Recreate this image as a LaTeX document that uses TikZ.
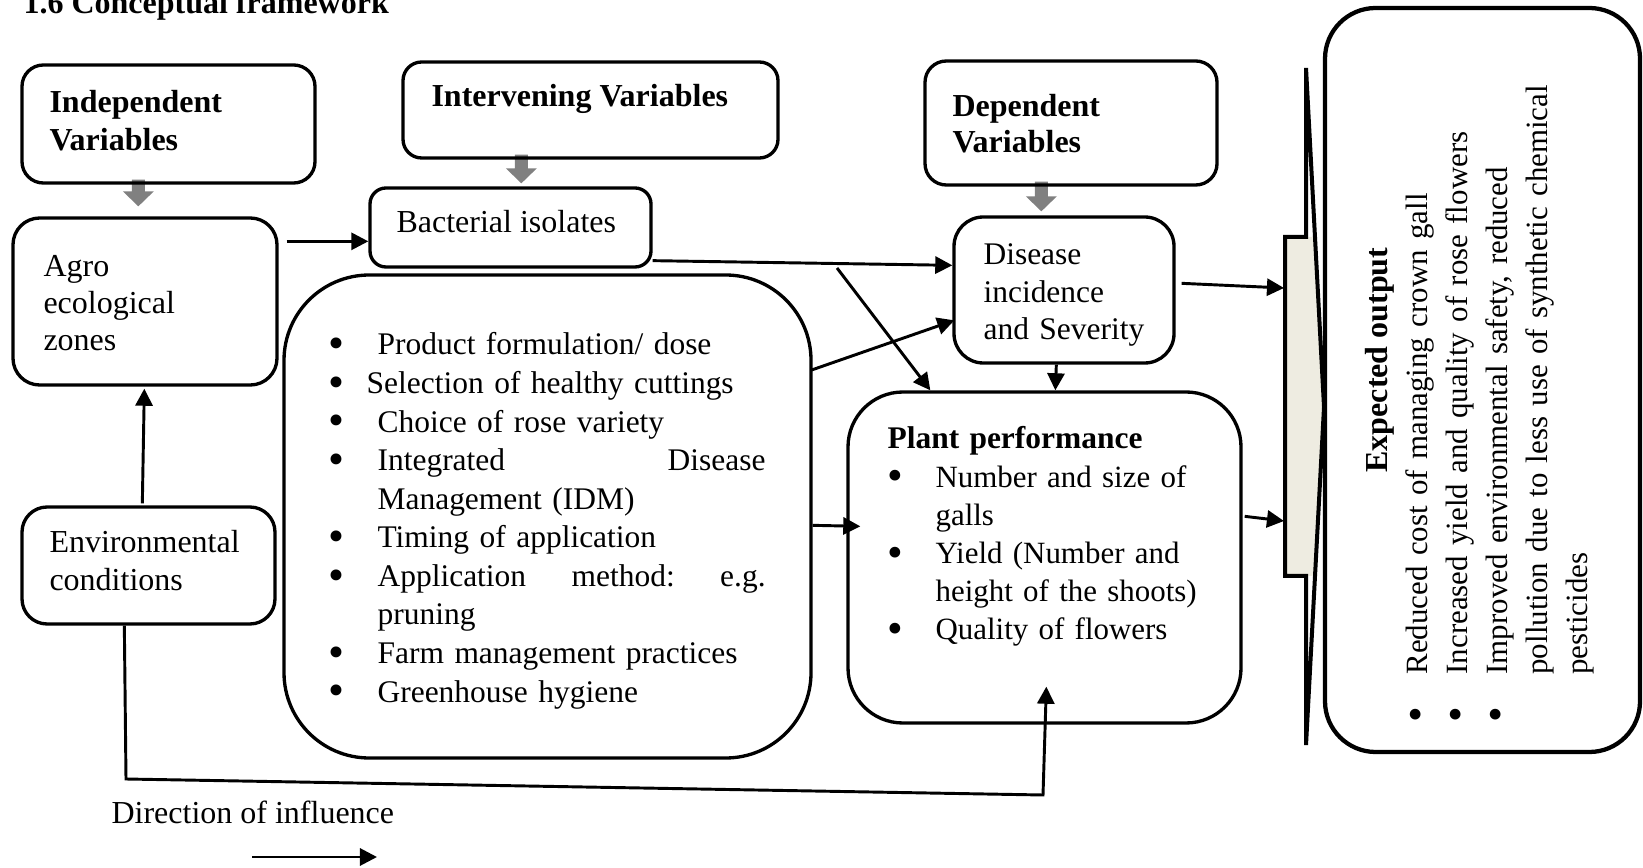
\documentclass[tikz,border=0pt]{standalone}
\usepackage{fontspec}
\usepackage{graphicx}
\setmainfont{Liberation Serif}
\usetikzlibrary{arrows.meta,calc,fit,backgrounds}
\definecolor{beige}{RGB}{238,236,225}
\definecolor{arrgrey}{RGB}{128,128,128}
\newcommand\greyarr[2]{\fill[arrgrey] ($(#1)+(-6.5,0)$) -- ($(#1)+(6.5,0)$) -- ($(#2)+(6.5,-15)$) -- ($(#2)+(15.5,-15)$) -- (#2) -- ($(#2)+(-15.5,-15)$) -- ($(#2)+(-6.5,-15)$) -- cycle;}
\newcommand\bul{\raisebox{-0.12em}{\scalebox{1.45}{\textbullet}}}
\begin{document}
\begin{tikzpicture}[x=0.375pt,y=-0.375pt,
  box/.style={draw, line width=1.25pt, inner sep=0pt, rounded corners=#1},
  txt/.style={inner sep=0pt, anchor=base west, align=left, font=\fontsize{12}{#1}\selectfont},
  txt/.default=14.4,
  conn/.style={line width=1.1pt, -{Triangle[length=6.4pt,width=6.4pt]}}]
\useasboundingbox (0,0) rectangle (1643,868);

% boxes
\node[box=8pt, fit={(22,65) (315,183)}] (indep) {};
\node[box=7pt, fit={(403,62) (778,158)}] (interv) {};
\node[box=8pt, fit={(925,61) (1217,185)}] (dep) {};
\node[box=10pt, fit={(13,218) (277,385)}] (agro) {};
\node[box=6pt, fit={(370,188) (651,267)}] (bact) {};
\node[box=11pt, fit={(954,217) (1174,363)}] (disease) {};
\node[box=32pt, fit={(284,275) (811,758)}] (list) {};
\node[box=20.6pt, fit={(848,392) (1241,723)}] (plant) {};
\node[box=9.4pt, fit={(22,507) (275,624)}] (env) {};

% expected output arrow shape
\fill[beige] (1285,237) -- (1315,237) -- (1324,407) -- (1315,576) -- (1285,576) -- cycle;
\draw[line width=1.5pt] (1306,68) -- (1324,407) -- (1306,745) -- (1306,576) -- (1285,576) -- (1285,237) -- (1306,237) -- cycle;
\node[box=19pt, line width=1.6pt, fit={(1325,8) (1640,752)}] (output) {};

% grey block arrows
\coordinate (g1s) at ($(indep.south west)+(118,-5)$);
\coordinate (g1t) at ($(agro.north west)+(127,-10)$);
\coordinate (g2s) at ($(interv.south west)+(120,-5)$);
\coordinate (g2t) at ($(bact.north west)+(153,-3)$);
\coordinate (g3s) at ($(dep.south west)+(118,-5)$);
\coordinate (g3t) at ($(disease.north west)+(89,-4)$);
\begin{pgfonlayer}{background}
\greyarr{g1s}{g1t}
\greyarr{g2s}{g2t}
\greyarr{g3s}{g3t}
\end{pgfonlayer}

% texts
\node[txt] (title) at (23,14) {\textbf{1.6 Conceptual framework}};
\node[txt=13.9, text width=110pt] (indepT) at (49,113) {\textbf{Independent}\\\textbf{Variables}};
\node[txt] (intervT) at (431,107) {\textbf{Intervening Variables}};
\node[txt=13.5, text width=100pt] (depT) at (952,117) {\textbf{Dependent}\\\textbf{Variables}};
\node[txt=13.7, text width=90pt] (agroT) at (43,277) {Agro\\ecological\\zones};
\node[txt] (bactT) at (396,233) {Bacterial isolates};
\node[txt=14.06, text width=80pt, font=\fontsize{11.8}{14.06}\selectfont] (diseaseT) at (983,265) {Disease\\incidence\\and Severity};
\node[txt=13.9, text width=90pt] (envT) at (49,553) {Environmental\\conditions};
\node[txt, text width=175pt, font=\fontsize{11.8}{14.46}\selectfont] (listT) at (328,355) {%
\makebox[18.4pt][l]{\bul}Product formulation/ dose\\
\makebox[14.3pt][l]{\bul}Selection of healthy cuttings\\
\makebox[18.4pt][l]{\bul}Choice of rose variety\\
\makebox[18.4pt][l]{\bul}\makebox[145.5pt][s]{Integrated\hfill Disease}\\
\hspace*{18.4pt}Management (IDM)\\
\makebox[18.4pt][l]{\bul}Timing of application\\
\makebox[18.4pt][l]{\bul}\makebox[145.5pt][s]{Application\hfill method:\hfill e.g.}\\
\hspace*{18.4pt}pruning\\
\makebox[18.4pt][l]{\bul}Farm management practices\\
\makebox[18.4pt][l]{\bul}Greenhouse hygiene};
\node[txt, text width=150pt, font=\fontsize{11.6}{14.3}\selectfont] (plantT) at (887,449) {{\fontsize{11.8}{14.3}\selectfont\textbf{Plant performance}}\\
\makebox[18pt][l]{\bul}Number and size of\\
\hspace*{18pt}galls\\
\makebox[18pt][l]{\bul}Yield (Number and\\
\hspace*{18pt}height of the shoots)\\
\makebox[18pt][l]{\bul}Quality of flowers};
\node[txt, rotate=90] (outH) at (1387,473) {\textbf{Expected output}};
\node[txt, text width=280pt, rotate=90, font=\fontsize{11.6}{15}\selectfont] (outL) at (1427,723) {%
\makebox[18pt][l]{\bul}Reduced cost of managing crown gall\\
\makebox[18pt][l]{\bul}Increased yield and quality of rose flowers\\
\makebox[18pt][l]{\bul}Improved environmental safety, reduced\\
\hspace*{18pt}pollution due to less use of synthetic chemical\\
\hspace*{18pt}pesticides};
\node[txt] (legendT) at (111,823) {Direction of influence};

% connectors
\coordinate (dg) at (837,268);
\coordinate (chevA) at (1284,288);
\coordinate (chevB) at (1284,521);
\coordinate (c1) at (126,779);
\coordinate (c2) at (1043,795);
\coordinate (lg1) at (252,857);
\coordinate (lg2) at (377,857);

\draw[conn] ($(agro.north east)+(8,25)$) -- ($(bact.north west)+(0,55)$);
\draw[conn] ($(bact.south east)+(0,-8)$) -- ($(disease.north west)+(0,50)$);
\draw[conn] (dg) -- ($(plant.north west)+(84,0)$);
\draw[conn] ($(list.north east)+(-2,97)$) -- ($(disease.north west)+(2,105)$);
\draw[conn] ($(list.north east)+(0,252)$) -- ($(plant.north west)+(14,136)$);
\draw[conn] ($(disease.south west)+(104,0)$) -- ($(plant.north west)+(209,0)$);
\draw[conn] ($(disease.north east)+(6,68)$) -- (chevA);
\draw[conn] ($(plant.north east)+(2,126)$) -- (chevB);
\draw[conn] ($(env.north west)+(122,-2)$) -- ($(agro.south west)+(133,2)$);
\draw[conn] ($(env.south west)+(104,0)$) -- (c1) -- (c2) -- ($(plant.south west)+(200,-38)$);
\draw[conn] (lg1) -- (lg2);
\end{tikzpicture}
\end{document}
